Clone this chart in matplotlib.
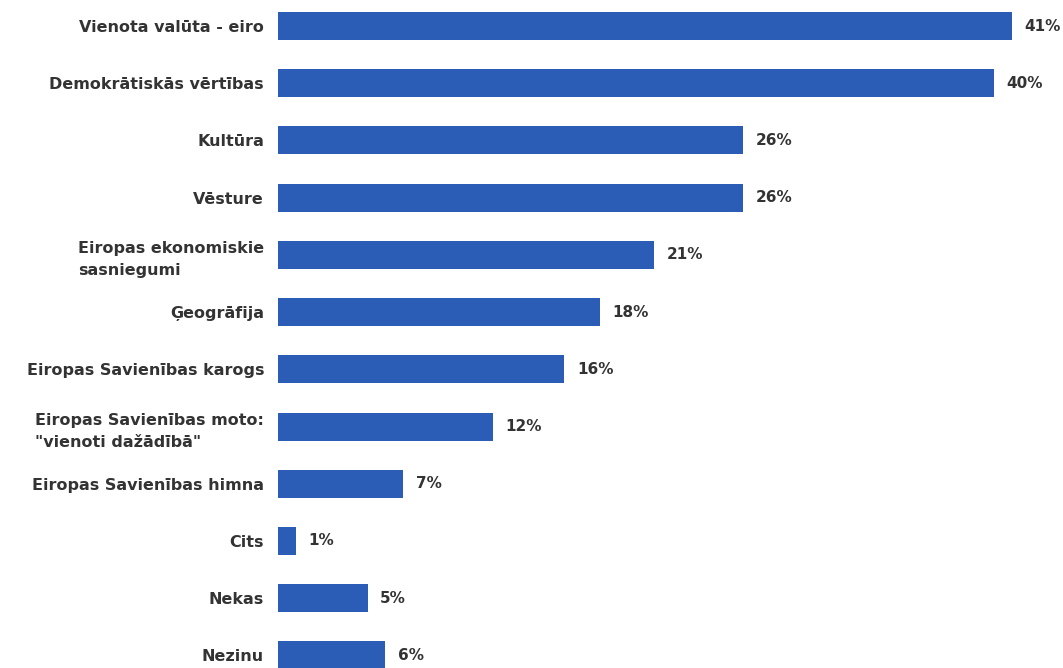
import matplotlib
matplotlib.use("Agg")
import matplotlib.pyplot as plt

categories = [
    "Vienota valūta - eiro",
    "Demokrātiskās vērtības",
    "Kultūra",
    "Vēsture",
    "Eiropas ekonomiskie\nsasniegumi",
    "Ģeogrāfija",
    "Eiropas Savienības karogs",
    "Eiropas Savienības moto:\n\"vienoti dažādībā\"",
    "Eiropas Savienības himna",
    "Cits",
    "Nekas",
    "Nezinu",
]
values = [41, 40, 26, 26, 21, 18, 16, 12, 7, 1, 5, 6]

bar_color = "#2b5cb6"
text_color = "#333333"

fig = plt.figure(figsize=(10.63, 6.68), dpi=100)
ax = fig.add_axes([278 / 1063, 0, 785 / 1063, 1])

pos = list(range(len(categories)))
ax.barh(pos, values, height=0.49, color=bar_color)
ax.set_xlim(0, 785 / 17.9)
ax.set_ylim(11.22, -0.455)

ax.set_yticks(pos)
ax.set_yticklabels(categories, fontfamily="DejaVu Sans", fontweight="bold",
                   fontsize=11.5, color=text_color)
for lab in ax.get_yticklabels():
    lab.set_multialignment("left")
    lab.set_linespacing(1.55)
ax.tick_params(axis="y", length=0, pad=10)
ax.set_xticks([])
for s in ax.spines.values():
    s.set_visible(False)

for p, v in zip(pos, values):
    ax.annotate(f"{v}%", xy=(v, p), xytext=(9, 0), textcoords="offset points",
                va="center", ha="left", fontfamily="DejaVu Sans",
                fontweight="bold", fontsize=11, color=text_color)

fig.savefig("out.png", dpi=100)
